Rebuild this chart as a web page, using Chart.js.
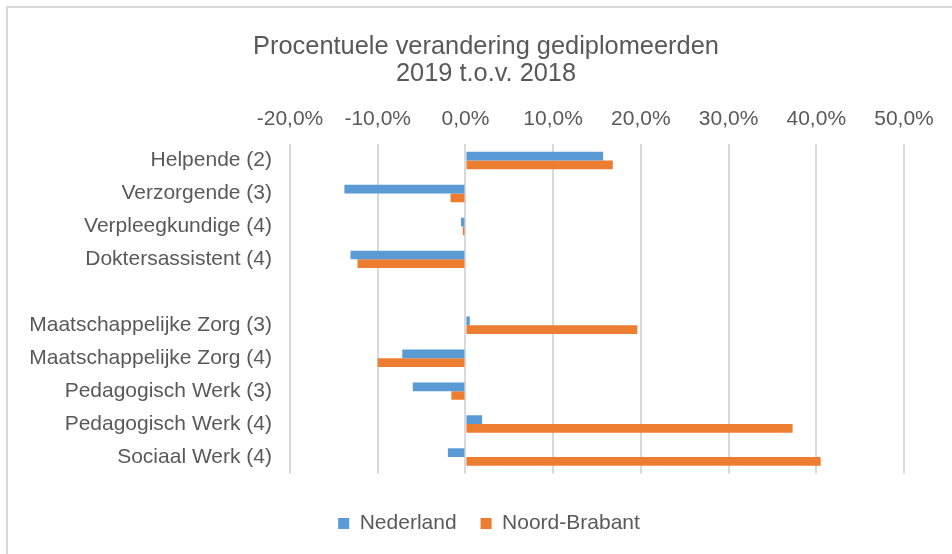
<!DOCTYPE html>
<html>
<head>
<meta charset="utf-8">
<script src="https://cdn.jsdelivr.net/npm/chart.js@4"></script>
<style>
  html, body { margin: 0; padding: 0; background: #fff; overflow: hidden; }
  body { width: 952px; height: 554px; position: relative; }
  .frame { position: absolute; left: 6px; top: 6px; width: 1000px; height: 1000px; border: 2px solid #d9d9d9; box-sizing: border-box; }
  .wrap { position: absolute; left: 0; top: 0; width: 952px; height: 554px; }
</style>
</head>
<body>
<div class="frame"></div>
<div class="wrap"><canvas id="veranderingChart"></canvas></div>
<script>
// categorieen (lege regel tussen zorg en welzijn)
const categories = [
  'Helpende (2)',
  'Verzorgende (3)',
  'Verpleegkundige (4)',
  'Doktersassistent (4)',
  '',
  'Maatschappelijke Zorg (3)',
  'Maatschappelijke Zorg (4)',
  'Pedagogisch Werk (3)',
  'Pedagogisch Werk (4)',
  'Sociaal Werk (4)'
];

// procentuele verandering 2019 t.o.v. 2018
const nederland = [15.7, -13.8, -0.5, -13.1, null, 0.5, -7.2, -6.0, 1.9, -2.0];
const noordBrabant = [16.8, -1.7, -0.3, -12.3, null, 19.6, -10.0, -1.6, 37.3, 40.5];

const xTicks = [-20, -10, 0, 10, 20, 30, 40, 50];

const textColor = '#595959';
const fontFamily = "'Liberation Sans', Arial, sans-serif";

// titel en legenda staan in het origineel iets links van het midden
const centerShift = {
  id: 'centerShift',
  afterLayout(chart) {
    const targets = [[chart.titleBlock, 486], [chart.legend, 489]];
    targets.forEach(([box, center]) => {
      if (!box) return;
      const d = center - (box.left + box.right) / 2;
      box.left += d;
      box.right += d;
    });
  }
};

const ctx = document.getElementById('veranderingChart');

new Chart(ctx, {
  type: 'bar',
  data: {
    labels: categories,
    datasets: [
      {
        label: 'Nederland',
        data: nederland,
        backgroundColor: '#5B9BD5',
        borderWidth: 0,
        barPercentage: 1,
        categoryPercentage: 0.53
      },
      {
        label: 'Noord-Brabant',
        data: noordBrabant,
        backgroundColor: '#ED7D31',
        borderWidth: 0,
        barPercentage: 1,
        categoryPercentage: 0.53
      }
    ]
  },
  plugins: [centerShift],
  options: {
    indexAxis: 'y',
    responsive: true,
    maintainAspectRatio: false,
    animation: false,
    layout: {
      padding: { left: 20, right: 48, top: 33, bottom: 10 }
    },
    scales: {
      x: {
        position: 'top',
        min: xTicks[0],
        max: xTicks[xTicks.length - 1],
        afterBuildTicks: (scale) => {
          scale.ticks = xTicks.map(v => ({ value: v }));
        },
        ticks: {
          color: textColor,
          font: { family: fontFamily, size: 21 },
          padding: 12,
          callback: (v) => v.toFixed(1).replace('.', ',') + '%'
        },
        grid: {
          color: '#d9d9d9',
          lineWidth: 2,
          drawTicks: false
        },
        border: { display: false }
      },
      y: {
        afterFit: (scale) => { scale.width = 270; },
        ticks: {
          color: textColor,
          font: { family: fontFamily, size: 21 },
          padding: 10
        },
        grid: { display: false },
        border: { display: false }
      }
    },
    plugins: {
      title: {
        display: true,
        text: ['Procentuele verandering gediplomeerden', '2019 t.o.v. 2018'],
        color: textColor,
        font: { family: fontFamily, size: 25.4, weight: 'normal', lineHeight: 1.08 },
        padding: { top: 0, bottom: 7 }
      },
      legend: {
        position: 'bottom',
        title: {
          display: true,
          text: '',
          font: { size: 15.5, lineHeight: 1 },
          padding: 0
        },
        labels: {
          color: textColor,
          font: { family: fontFamily, size: 21 },
          boxWidth: 11,
          boxHeight: 11,
          padding: 24
        }
      },
      tooltip: { enabled: false }
    }
  }
});
</script>
</body>
</html>
